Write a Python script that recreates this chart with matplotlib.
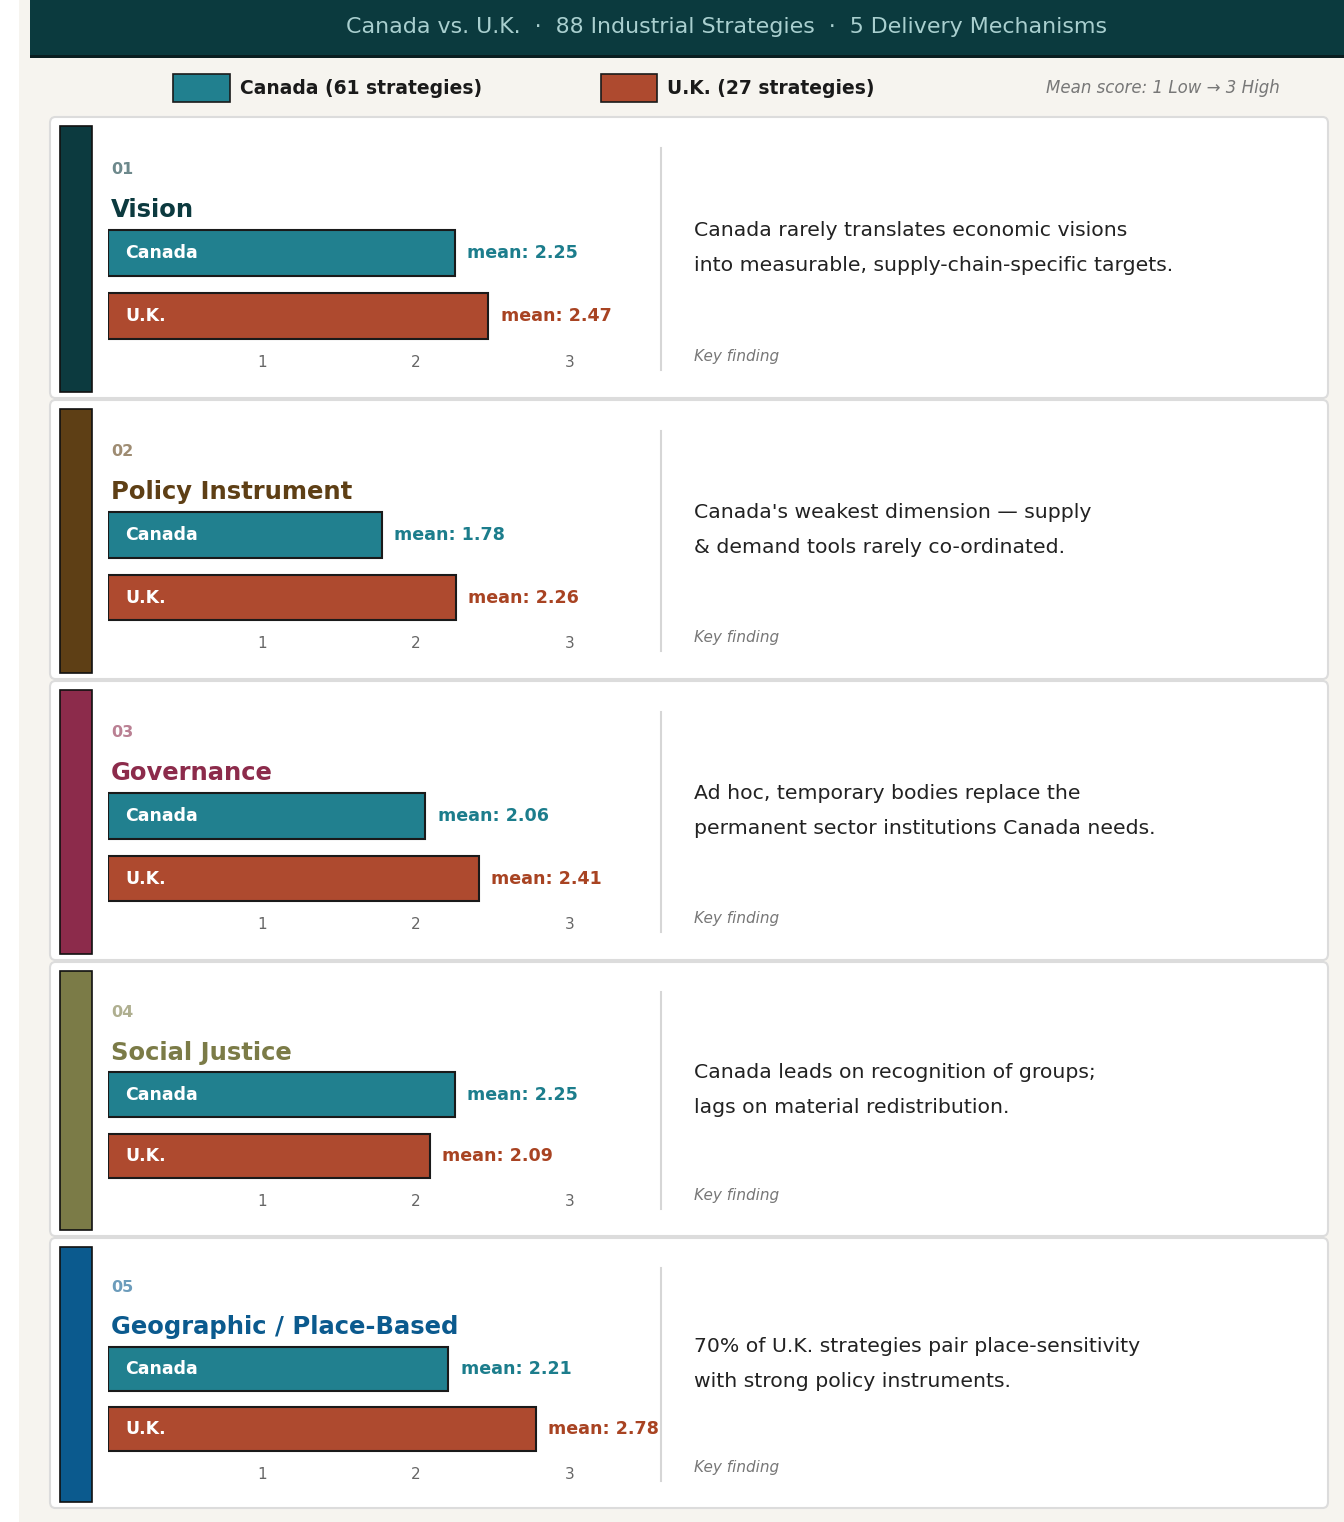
import matplotlib.pyplot as plt
from matplotlib.patches import Rectangle, FancyBboxPatch
from matplotlib.lines import Line2D

# data
mechanisms = ["Vision", "Policy Instrument", "Governance", "Social Justice",
              "Geographic / Place-Based"]
numbers = ["01", "02", "03", "04", "05"]
canada_mean = [2.25, 1.78, 2.06, 2.25, 2.21]
uk_mean = [2.47, 2.26, 2.41, 2.09, 2.78]
findings = [
    "Canada rarely translates economic visions\ninto measurable, supply-chain-specific targets.",
    "Canada's weakest dimension \u2014 supply\n& demand tools rarely co-ordinated.",
    "Ad hoc, temporary bodies replace the\npermanent sector institutions Canada needs.",
    "Canada leads on recognition of groups;\nlags on material redistribution.",
    "70% of U.K. strategies pair place-sensitivity\nwith strong policy instruments.",
]
accent = ["#0c3a3f", "#5e3f15", "#8c2b4b", "#7b7b47", "#0b5a8e"]
score_ticks = [1, 2, 3]

CAN = "#21808f"
UKC = "#ae4a2f"
CAN_TXT = "#1c7d8c"
UK_TXT = "#a84322"

W, H = 1344, 1522
fig = plt.figure(figsize=(W / 100, H / 100), dpi=100)
fig.patch.set_facecolor("#f6f4ef")


def fx(x):
    return x / W


def fy(y):
    return 1 - y / H


def rect(x0, y0, x1, y1, **kw):
    fig.patches.append(Rectangle((fx(x0), fy(y1)), fx(x1 - x0), (y1 - y0) / H,
                                 transform=fig.transFigure, **kw))


# left white margin and header band
rect(0, 0, 19, H, facecolor="white", edgecolor="none")
rect(30, 0, W, 56, facecolor="#0b3a3e", edgecolor="none")
rect(30, 55, W, 58, facecolor="#0a1e20", edgecolor="none")
fig.text(fx(727), fy(27), "Canada vs. U.K.  \u00b7  88 Industrial Strategies  \u00b7  5 Delivery Mechanisms",
         ha="center", va="center", fontsize=15.9, color="#a9cfcf")

# legend row
rect(173, 74, 230, 102, facecolor=CAN, edgecolor="#1a1a1a", linewidth=1.2)
fig.text(fx(240), fy(88), "Canada (61 strategies)", ha="left", va="center",
         fontsize=13.5, fontweight="bold", color="#1a1a1a")
rect(601, 74, 657, 102, facecolor=UKC, edgecolor="#1a1a1a", linewidth=1.2)
fig.text(fx(667), fy(88), "U.K. (27 strategies)", ha="left", va="center",
         fontsize=13.5, fontweight="bold", color="#1a1a1a")
fig.text(fx(1280), fy(88), "Mean score: 1 Low \u2192 3 High", ha="right", va="center",
         fontsize=12, style="italic", color="#777777")

panel_top = [117, 400, 681, 962, 1238]
panel_bot = [398, 679, 960, 1236, 1508]

x0_px, x1_px = 108, 650
px_per_unit = 154.0

for i in range(5):
    T, B = panel_top[i], panel_bot[i]
    s = (B - T) / 281.0

    card = FancyBboxPatch((fx(50), fy(B)), fx(1328 - 50), (B - T) / H,
                          boxstyle="round,pad=0,rounding_size=0.004",
                          transform=fig.transFigure, facecolor="white",
                          edgecolor="#dcdcdc", linewidth=1.5)
    fig.patches.append(card)
    rect(60, T + 9 * s, 92, B - 6 * s, facecolor=accent[i], edgecolor="#111111", linewidth=1.2)

    fig.text(fx(111), fy(T + 52 * s), numbers[i], ha="left", va="center",
             fontsize=11.5, fontweight="bold", color=accent[i], alpha=0.6)
    fig.text(fx(111), fy(T + 93 * s), mechanisms[i], ha="left", va="center",
             fontsize=17.5, fontweight="bold", color=accent[i])

    # bar axes, y in panel-relative pixel units
    ya, yb = T + 105 * s, T + 228 * s
    ax = fig.add_axes([fx(x0_px), fy(yb), fx(x1_px - x0_px), (yb - ya) / H])
    ax.set_zorder(2)
    ax.set_xlim(0, (x1_px - x0_px) / px_per_unit)
    ax.set_ylim(228, 105)
    ax.patch.set_alpha(0)
    for sp in ax.spines.values():
        sp.set_visible(False)
    ax.barh([136, 199], [canada_mean[i], uk_mean[i]], height=46,
            color=[CAN, UKC], edgecolor="#1a1a1a", linewidth=1.5)
    ax.text(0.11, 136, "Canada", ha="left", va="center", fontsize=12.5,
            fontweight="bold", color="white")
    ax.text(0.11, 199, "U.K.", ha="left", va="center", fontsize=12.5,
            fontweight="bold", color="white")
    ax.text(canada_mean[i] + 0.08, 136, f"mean: {canada_mean[i]:.2f}", ha="left",
            va="center", fontsize=12.6, fontweight="bold", color=CAN_TXT)
    ax.text(uk_mean[i] + 0.08, 199, f"mean: {uk_mean[i]:.2f}", ha="left",
            va="center", fontsize=12.6, fontweight="bold", color=UK_TXT)
    ax.set_yticks([])
    ax.set_xticks(score_ticks)
    ax.set_xticklabels([str(t) for t in score_ticks])
    ax.tick_params(axis="x", length=0, pad=7, labelsize=11, labelcolor="#666666")

    # divider and finding text
    fig.lines.append(Line2D([fx(661), fx(661)], [fy(T + 31 * s), fy(T + 253 * s)],
                            transform=fig.transFigure, color="#d6d6d6", linewidth=1.5))
    fig.text(fx(694), fy(T + 131 * s), findings[i], ha="left", va="center",
             fontsize=14.7, color="#222222", linespacing=2.05)
    fig.text(fx(694), fy(T + 239 * s), "Key finding", ha="left", va="center",
             fontsize=11, style="italic", color="#777777")

fig.savefig("out.png", dpi=100, facecolor=fig.get_facecolor())
